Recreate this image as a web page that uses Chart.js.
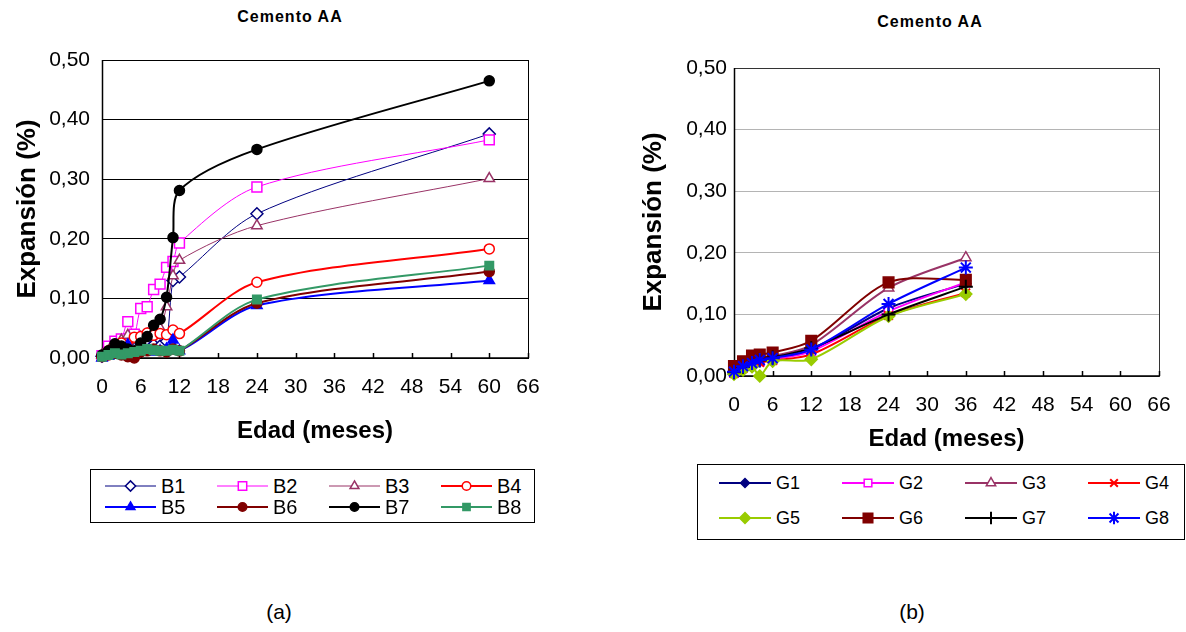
<!DOCTYPE html>
<html>
<head>
<meta charset="utf-8">
<script src="https://cdn.jsdelivr.net/npm/chart.js@4.4.1/dist/chart.umd.min.js"></script>
<style>
  body { margin: 0; background: #fff; font-family: Arial, "Liberation Sans", sans-serif; color: #000; }
  #page { position: relative; width: 1186px; height: 632px; overflow: hidden; }
  .title { position: absolute; font-weight: bold; font-size: 16px; letter-spacing: 1px; transform: translateX(-50%); white-space: nowrap; }
  .box { position: absolute; }
  .legend { position: absolute; border: 1px solid #000; box-sizing: border-box; background: #fff; }
  .item { position: absolute; display: flex; align-items: center; height: 22px; }
  .item span { margin-left: 5px; }
  .caption { position: absolute; font-size: 21px; transform: translate(-50%, -50%); }
</style>
</head>
<body>
<div id="page">
  <div class="title" style="left:290px; top:8px;">Cemento AA</div>
  <div class="title" style="left:930px; top:13px;">Cemento AA</div>
  <div class="box" style="left:0; top:40px;"><canvas id="chartA" width="545" height="420"></canvas></div>
  <div class="box" style="left:600px; top:40px;"><canvas id="chartB" width="586" height="420"></canvas></div>
  <div class="legend" id="legendA" style="left:90px; top:469px; width:445px; height:54px; font-size:20px;"></div>
  <div class="legend" id="legendB" style="left:697px; top:464px; width:488px; height:76px; font-size:18px;"></div>
  <div class="caption" style="left:279px; top:612px;">(a)</div>
  <div class="caption" style="left:912px; top:612px;">(b)</div>
</div>

<script>
// edad en meses, serie B (cemento AA, panel a)
const mesesA = [0, 1, 2, 3, 4, 5, 6, 7, 8, 9, 10, 11, 12, 24, 60];
const B1 = [0.003, 0.008, 0.012, 0.015, 0.018, 0.015, 0.018, 0.020, 0.022, 0.020, 0.028, 0.130, 0.136, 0.242, 0.376];
const B2 = [0.004, 0.020, 0.028, 0.032, 0.061, 0.040, 0.083, 0.086, 0.115, 0.124, 0.152, 0.162, 0.193, 0.287, 0.366];
const B3 = [0.005, 0.012, 0.020, 0.030, 0.038, 0.030, 0.035, 0.040, 0.045, 0.050, 0.086, 0.138, 0.164, 0.222, 0.301];
const B4 = [0.003, 0.012, 0.020, 0.025, 0.005, 0.035, 0.036, 0.042, 0.038, 0.041, 0.039, 0.047, 0.041, 0.127, 0.183];
const B5 = [0.000, 0.003, 0.006, 0.010, 0.022, 0.008, 0.010, 0.012, 0.010, 0.012, 0.015, 0.030, 0.012, 0.088, 0.130];
const B6 = [0.002, 0.005, 0.008, 0.005, 0.002, 0.000, 0.010, 0.012, 0.015, 0.012, 0.010, 0.015, 0.012, 0.092, 0.145];
const B7 = [0.005, 0.012, 0.024, 0.020, 0.015, 0.012, 0.025, 0.036, 0.055, 0.065, 0.102, 0.202, 0.281, 0.350, 0.465];
const B8 = [0.002, 0.005, 0.008, 0.006, 0.008, 0.010, 0.012, 0.015, 0.013, 0.012, 0.012, 0.014, 0.012, 0.098, 0.155];

// edad en meses, serie G (panel b)
const mesesB = [0, 1.4, 2.8, 4, 6, 12, 24, 36];
const G1 = [0.005, 0.015, 0.022, 0.026, 0.028, 0.042, 0.110, 0.150];
const G2 = [0.005, 0.014, 0.020, 0.024, 0.027, 0.040, 0.105, 0.152];
const G3 = [0.008, 0.018, 0.025, 0.030, 0.032, 0.050, 0.143, 0.192];
const G4 = [0.004, 0.012, 0.018, 0.022, 0.025, 0.035, 0.098, 0.135];
const G5 = [0.003, 0.010, 0.015, 0.000, 0.024, 0.027, 0.097, 0.133];
const G6 = [0.016, 0.024, 0.033, 0.035, 0.038, 0.057, 0.152, 0.156];
const G7 = [0.006, 0.015, 0.021, 0.025, 0.030, 0.045, 0.100, 0.145];
const G8 = [0.007, 0.016, 0.021, 0.026, 0.029, 0.043, 0.117, 0.176];

const xTicks = [0, 6, 12, 18, 24, 30, 36, 42, 48, 54, 60, 66];
const yTicks = [0, 0.1, 0.2, 0.3, 0.4, 0.5];

const seriesA = [
  { label: "B1", values: B1, color: "#000080", fill: "#ffffff", style: "rectRot", r: 6, lw: 1 },
  { label: "B2", values: B2, color: "#ff00ff", fill: "#ffffff", style: "rect", r: 7, lw: 1 },
  { label: "B3", values: B3, color: "#993366", fill: "#ffffff", style: "triangle", r: 6, lw: 1 },
  { label: "B4", values: B4, color: "#ff0000", fill: "#ffffff", style: "circle", r: 5, lw: 2 },
  { label: "B5", values: B5, color: "#0000ff", fill: "#0000ff", style: "triangle", r: 6, lw: 2 },
  { label: "B6", values: B6, color: "#800000", fill: "#800000", style: "circle", r: 5, lw: 2 },
  { label: "B7", values: B7, color: "#000000", fill: "#000000", style: "circle", r: 5, lw: 2 },
  { label: "B8", values: B8, color: "#339966", fill: "#339966", style: "rect", r: 6, lw: 2 }
];

const seriesB = [
  { label: "G1", values: G1, color: "#000080", fill: "#000080", style: "rectRot", r: 5, lw: 2 },
  { label: "G2", values: G2, color: "#ff00ff", fill: "#ffffff", style: "rect", r: 6, lw: 2 },
  { label: "G3", values: G3, color: "#993366", fill: "#ffffff", style: "triangle", r: 6, lw: 2 },
  { label: "G4", values: G4, color: "#ff0000", fill: "#ff0000", style: "crossRot", r: 6, lw: 2 },
  { label: "G5", values: G5, color: "#99cc00", fill: "#99cc00", style: "rectRot", r: 6, lw: 2 },
  { label: "G6", values: G6, color: "#800000", fill: "#800000", style: "rect", r: 7.5, lw: 2 },
  { label: "G7", values: G7, color: "#000000", fill: "#000000", style: "cross", r: 7, lw: 2 },
  { label: "G8", values: G8, color: "#0000ff", fill: "#0000ff", style: "star", r: 7, lw: 2 }
];

const FONT = "Arial, 'Liberation Sans', sans-serif";

function toDatasets(series, meses) {
  return series.map((s, i) => ({
    label: s.label,
    data: meses.map((m, k) => ({ x: m, y: s.values[k] })),
    borderColor: s.color,
    backgroundColor: s.fill,
    borderWidth: s.lw,
    pointStyle: s.style,
    pointRadius: s.r,
    pointBorderColor: s.color,
    pointBackgroundColor: s.fill,
    pointBorderWidth: s.style === "cross" || s.style === "crossRot" || s.style === "star" ? 2 : 1.5,
    tension: 0.3,
    clip: false,
    order: series.length - i
  }));
}

// marco del área de trazado y marcas del eje x hacia dentro
function framePlugin(color) {
  return {
    id: "frame",
    beforeDatasetsDraw(chart) {
      const { ctx, chartArea: a, scales } = chart;
      ctx.save();
      ctx.strokeStyle = color;
      ctx.lineWidth = 1;
      ctx.strokeRect(a.left + 0.5, a.top + 0.5, a.right - a.left, a.bottom - a.top);
      ctx.lineWidth = 1.5;
      ctx.strokeStyle = "#000";
      ctx.beginPath();
      ctx.moveTo(a.left, a.bottom);
      ctx.lineTo(a.right, a.bottom);
      ctx.moveTo(a.left + 0.5, a.top);
      ctx.lineTo(a.left + 0.5, a.bottom);
      scales.x.ticks.forEach(t => {
        const px = Math.round(scales.x.getPixelForValue(t.value)) + 0.5;
        ctx.moveTo(px, a.bottom);
        ctx.lineTo(px, a.bottom - 5);
      });
      ctx.stroke();
      ctx.restore();
    }
  };
}

function makeChart(id, series, meses, opt) {
  return new Chart(document.getElementById(id), {
    type: "line",
    data: { datasets: toDatasets(series, meses) },
    options: {
      responsive: false,
      animation: false,
      events: [],
      layout: { padding: { top: opt.padTop, right: opt.padRight, left: 0, bottom: 0 } },
      plugins: { legend: { display: false }, tooltip: { enabled: false } },
      scales: {
        x: {
          type: "linear",
          min: 0,
          max: 66,
          afterBuildTicks: s => { s.ticks = xTicks.map(v => ({ value: v })); },
          afterFit: s => { s.height = opt.xHeight; s.paddingLeft = 0; s.paddingRight = 0; },
          grid: { drawOnChartArea: false, drawTicks: false },
          border: { display: false },
          ticks: { padding: 17, color: "#000", font: { family: FONT, size: 21 } },
          title: {
            display: true,
            text: "Edad (meses)",
            color: "#000",
            font: { family: FONT, size: 24, weight: "bold" },
            padding: { top: 0, bottom: opt.xTitlePad }
          }
        },
        y: {
          min: 0,
          max: 0.5,
          afterBuildTicks: s => { s.ticks = yTicks.map(v => ({ value: v })); },
          afterFit: s => { s.width = opt.yWidth; s.paddingTop = 0; s.paddingBottom = 0; },
          grid: { color: opt.gridColor, lineWidth: 1, drawTicks: false },
          border: { display: false },
          ticks: {
            padding: opt.yTickPad,
            color: "#000",
            font: { family: FONT, size: 21 },
            callback: v => v.toFixed(2).replace(".", ",")
          },
          title: {
            display: true,
            text: "Expansión (%)",
            color: "#000",
            font: { family: FONT, size: 26, weight: "bold" },
            padding: { top: opt.yTitlePad, bottom: 0 }
          }
        }
      }
    },
    plugins: [framePlugin(opt.frameColor)]
  });
}

makeChart("chartA", seriesA, mesesA, {
  padTop: 20, padRight: 17, yWidth: 102, xHeight: 102,
  yTitlePad: 12, xTitlePad: 14, yTickPad: 12,
  gridColor: "#000000", frameColor: "#000000"
});

makeChart("chartB", seriesB, mesesB, {
  padTop: 28, padRight: 27, yWidth: 134, xHeight: 84,
  yTitlePad: 38, xTitlePad: 6, yTickPad: 7,
  gridColor: "#b4b4b4", frameColor: "#333333"
});

// leyendas en cuadro, cuatro columnas por dos filas
function drawSymbol(canvas, s, scale) {
  const ctx = canvas.getContext("2d");
  const w = canvas.width, h = canvas.height;
  ctx.strokeStyle = s.color;
  ctx.lineWidth = s.lw;
  ctx.beginPath();
  ctx.moveTo(0, h / 2);
  ctx.lineTo(w, h / 2);
  ctx.stroke();
  ctx.fillStyle = s.fill;
  ctx.lineWidth = s.style === "cross" || s.style === "crossRot" || s.style === "star" ? 2 : 1.5;
  const r = s.r * scale;
  if (Chart.helpers && Chart.helpers.drawPoint) {
    Chart.helpers.drawPoint(ctx, { pointStyle: s.style, radius: r, borderWidth: ctx.lineWidth, rotation: 0 }, w / 2, h / 2);
  } else {
    ctx.beginPath();
    ctx.arc(w / 2, h / 2, r, 0, Math.PI * 2);
    ctx.fill();
    ctx.stroke();
  }
}

function buildLegend(id, series, lay) {
  const box = document.getElementById(id);
  series.forEach((s, i) => {
    const col = i % 4, row = Math.floor(i / 4);
    const item = document.createElement("div");
    item.className = "item";
    item.style.left = (lay.x0 + col * lay.colW) + "px";
    item.style.top = (lay.rows[row] - 11) + "px";
    const c = document.createElement("canvas");
    c.width = lay.lineW;
    c.height = 22;
    drawSymbol(c, s, lay.scale);
    const t = document.createElement("span");
    t.textContent = s.label;
    item.appendChild(c);
    item.appendChild(t);
    box.appendChild(item);
  });
}

buildLegend("legendA", seriesA, { x0: 14, colW: 112, lineW: 51, rows: [16, 37], scale: 0.85 });
buildLegend("legendB", seriesB, { x0: 21, colW: 123, lineW: 52, rows: [18, 53], scale: 0.9 });
</script>
</body>
</html>
